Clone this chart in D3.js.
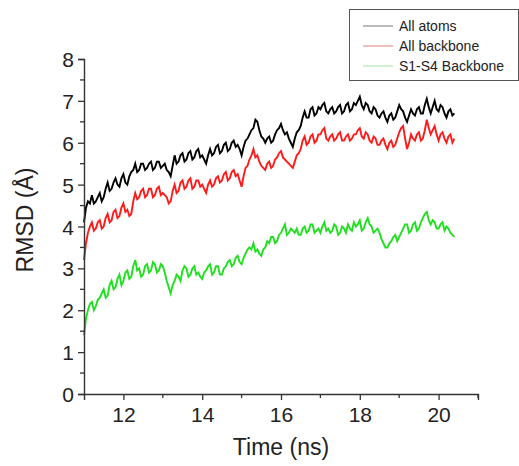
<!DOCTYPE html>
<html><head><meta charset="utf-8">
<script src="https://cdn.jsdelivr.net/npm/d3@7"></script>
<style>body{margin:0;background:#fff;}svg{display:block;font-family:"Liberation Sans",Arial,sans-serif;}</style>
</head><body><svg id="c" width="519" height="466"></svg>
<script>
// samples every ~0.05 ns from 11.0 to 20.4 ns
const timeRange = [11.0, 20.4];
const allAtoms = [4.1,4.45,4.6,4.55,4.75,4.55,4.6,4.7,4.8,4.6,4.7,4.9,5.05,4.85,4.9,5.05,5.15,5.0,4.95,5.15,5.25,5.05,5.0,5.2,5.3,5.35,5.5,5.3,5.35,5.5,5.5,5.35,5.4,5.5,5.55,5.35,5.4,5.55,5.55,5.4,5.45,5.5,5.35,5.3,5.2,5.45,5.7,5.5,5.55,5.7,5.75,5.55,5.6,5.75,5.8,5.6,5.65,5.8,5.85,5.65,5.7,5.6,5.5,5.7,5.85,5.7,5.75,5.9,5.95,5.75,5.8,5.95,6.0,5.8,5.85,6.0,6.05,5.9,5.95,5.85,5.7,5.9,6.05,6.1,6.2,6.3,6.35,6.55,6.5,6.3,6.15,6.1,6.0,6.1,6.15,6.0,6.05,6.2,6.3,6.35,6.45,6.3,6.2,6.25,6.1,6.0,5.9,6.1,6.25,6.3,6.4,6.6,6.75,6.6,6.6,6.8,6.85,6.65,6.7,6.85,6.8,6.9,6.95,6.75,6.7,6.8,6.85,6.7,6.75,6.85,6.9,6.7,6.75,6.9,6.95,6.75,6.8,6.95,6.9,7.0,7.1,6.9,6.8,6.95,6.9,6.75,6.7,6.85,6.8,6.65,6.6,6.7,6.75,6.6,6.5,6.65,6.7,6.55,6.6,6.75,6.9,6.8,6.75,6.6,6.5,6.65,6.8,6.7,6.65,6.8,6.85,6.7,6.7,6.9,7.05,6.85,6.7,6.85,7.0,6.8,6.75,6.9,6.85,6.7,6.6,6.75,6.8,6.65,6.7];
const allBackbone = [3.2,3.6,3.85,4.0,4.1,3.9,3.95,4.1,4.15,3.95,4.0,4.2,4.3,4.1,4.15,4.35,4.4,4.2,4.25,4.45,4.55,4.35,4.4,4.25,4.3,4.6,4.8,4.65,4.7,4.85,4.9,4.7,4.75,4.9,4.9,4.7,4.75,4.9,4.95,4.75,4.8,4.75,4.7,4.55,4.6,4.85,5.0,4.8,4.85,5.05,5.1,4.9,4.95,5.1,5.15,4.9,4.95,5.1,5.1,4.95,5.0,4.9,4.8,5.0,5.1,4.95,5.0,5.15,5.2,5.05,5.1,5.25,5.3,5.1,5.15,5.3,5.35,5.2,5.25,5.1,4.95,5.2,5.4,5.45,5.6,5.7,5.85,5.65,5.7,5.55,5.45,5.4,5.35,5.5,5.55,5.4,5.45,5.6,5.65,5.75,5.8,5.65,5.6,5.55,5.5,5.45,5.4,5.55,5.7,5.75,5.85,6.05,6.15,5.95,6.0,6.15,6.2,6.0,6.05,6.2,6.2,6.3,6.35,6.1,6.05,6.15,6.2,6.05,6.1,6.2,6.25,6.05,6.05,6.15,6.2,6.05,6.1,6.2,6.2,6.3,6.35,6.15,6.1,6.25,6.2,6.05,6.0,6.15,6.1,5.95,5.95,6.05,6.1,5.95,5.85,6.0,6.05,5.9,5.95,6.1,6.25,6.35,6.4,6.1,5.85,6.0,6.2,6.1,6.05,6.2,6.25,6.05,6.1,6.3,6.55,6.35,6.2,6.3,6.4,6.2,6.05,6.2,6.25,6.1,6.0,6.15,6.2,6.0,6.1];
const s1s4Backbone = [1.4,1.8,2.0,2.15,2.2,2.0,2.1,2.25,2.3,2.4,2.5,2.3,2.35,2.6,2.7,2.5,2.55,2.75,2.85,2.6,2.7,2.9,2.95,2.75,2.8,3.05,3.2,2.95,3.0,2.8,2.85,3.05,3.1,2.9,2.95,3.15,3.1,2.9,2.95,3.1,3.05,2.9,2.7,2.55,2.4,2.6,2.7,2.85,2.8,2.7,2.95,3.05,3.0,2.8,2.85,3.0,3.05,2.85,2.9,2.8,2.75,2.9,2.95,3.05,3.1,2.85,2.9,3.05,3.05,2.85,2.85,3.0,3.05,3.15,3.2,3.05,3.1,3.25,3.3,3.15,3.1,3.25,3.35,3.45,3.5,3.45,3.6,3.4,3.45,3.35,3.3,3.45,3.5,3.65,3.6,3.75,3.75,3.6,3.65,3.8,3.85,3.95,4.05,3.8,3.85,3.95,3.9,3.85,3.95,3.8,3.8,3.95,4.0,3.85,3.9,4.05,4.05,3.85,3.9,3.95,3.85,4.0,4.1,3.9,3.95,3.85,3.9,4.05,4.0,3.8,3.85,4.0,3.95,3.85,4.05,3.95,3.9,4.1,4.0,4.05,4.15,3.9,3.95,4.1,4.2,4.05,4.0,3.85,3.9,3.95,3.85,3.7,3.6,3.5,3.5,3.6,3.65,3.75,3.8,3.65,3.75,3.85,3.95,4.05,4.05,3.85,3.9,4.05,4.1,3.9,3.95,4.1,4.2,4.3,4.35,4.15,4.05,4.15,4.1,3.95,3.95,4.05,4.1,3.9,4.0,3.95,3.85,3.8,3.75];
const seriesNames = ["All atoms","All backbone","S1-S4 Backbone"];
const seriesColors = ["#000000","#ff1a1a","#1fe01f"];
const legendColors = ["#777777","#e08080","#a0e0a0"];
const xTicks = [12,14,16,18,20];
const yTicks = [0,1,2,3,4,5,6,7,8];

const svg = d3.select("#c");
const x = d3.scaleLinear().domain([11,21]).range([84,478]);
const y = d3.scaleLinear().domain([0,8]).range([394,59]);

const seriesData = [allAtoms, allBackbone, s1s4Backbone];
[2,1,0].forEach(k=>{
  const arr = seriesData[k];
  const t = d3.scaleLinear().domain([0, arr.length-1]).range(timeRange);
  const line = d3.line().x((d,i)=>x(t(i))).y(d=>y(d));
  svg.append("path").datum(arr).attr("d",line)
    .attr("fill","none").attr("stroke",seriesColors[k]).attr("stroke-width",1.9)
    .attr("stroke-linejoin","miter");
});

const axisColor = "#333";
const xAxis = d3.axisBottom(x).tickValues(xTicks).tickSize(6).tickPadding(7).tickFormat(d3.format("d"));
const gx = svg.append("g").attr("transform","translate(0,394)").call(xAxis);
gx.append("g").selectAll("line").data([13,15,17,19,21]).join("line")
  .attr("x1",d=>x(d)).attr("x2",d=>x(d)).attr("y1",0).attr("y2",4).attr("stroke",axisColor).attr("stroke-width",1.3);
const yAxis = d3.axisLeft(y).tickValues(yTicks).tickSize(6).tickPadding(4).tickFormat(d3.format("d"));
const gy = svg.append("g").attr("transform","translate(84,0)").call(yAxis);
gy.append("g").selectAll("line").data(d3.range(0.5,8,1)).join("line")
  .attr("x1",0).attr("x2",-4).attr("y1",d=>y(d)).attr("y2",d=>y(d)).attr("stroke",axisColor).attr("stroke-width",1.3);
[gx,gy].forEach(g=>{
  g.select(".domain").attr("stroke",axisColor).attr("stroke-width",1.4);
  g.selectAll(".tick line").attr("stroke",axisColor).attr("stroke-width",1.3);
  g.selectAll("text").attr("font-size",21).attr("fill","#222").attr("font-family","'Liberation Sans',Arial,sans-serif");
});
gy.selectAll(".tick text").attr("dy","0.36em");

svg.append("text").attr("x",281).attr("y",455).attr("text-anchor","middle")
  .attr("font-size",23).attr("fill","#222").text("Time (ns)");
svg.append("text").attr("transform","translate(33,220) rotate(-90)").attr("text-anchor","middle")
  .attr("font-size",23).attr("fill","#222").text("RMSD (Å)");

const lg = svg.append("g");
lg.append("rect").attr("x",349.5).attr("y",9.5).attr("width",169).attr("height",71)
  .attr("fill","#fff").attr("stroke","#555").attr("stroke-width",1);
seriesNames.forEach((n,i)=>{
  const yy = 26 + i*20;
  lg.append("line").attr("x1",363).attr("x2",393).attr("y1",yy).attr("y2",yy)
    .attr("stroke",legendColors[i]).attr("stroke-width",1);
  lg.append("text").attr("x",399).attr("y",yy+5).attr("font-size",14).attr("fill","#222").text(n);
});
</script></body></html>
